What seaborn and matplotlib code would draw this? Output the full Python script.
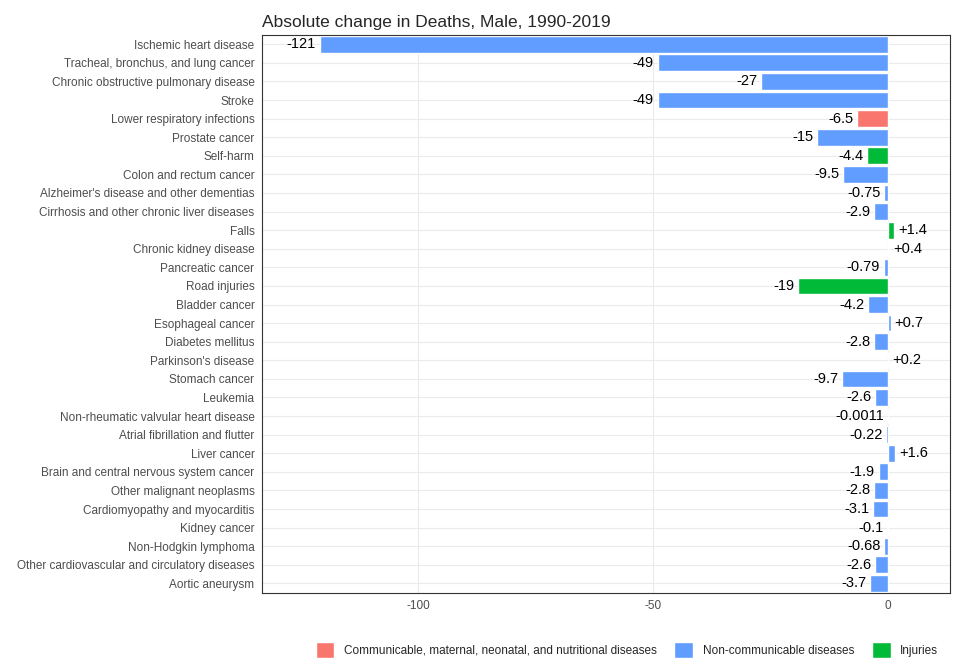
import matplotlib
matplotlib.use("Agg")
import matplotlib.pyplot as plt
import pandas as pd
import seaborn as sns

causes = [
    "Ischemic heart disease", "Tracheal, bronchus, and lung cancer",
    "Chronic obstructive pulmonary disease", "Stroke", "Lower respiratory infections",
    "Prostate cancer", "Self-harm", "Colon and rectum cancer",
    "Alzheimer's disease and other dementias", "Cirrhosis and other chronic liver diseases",
    "Falls", "Chronic kidney disease", "Pancreatic cancer", "Road injuries",
    "Bladder cancer", "Esophageal cancer", "Diabetes mellitus", "Parkinson's disease",
    "Stomach cancer", "Leukemia", "Non-rheumatic valvular heart disease",
    "Atrial fibrillation and flutter", "Liver cancer",
    "Brain and central nervous system cancer", "Other malignant neoplasms",
    "Cardiomyopathy and myocarditis", "Kidney cancer", "Non-Hodgkin lymphoma",
    "Other cardiovascular and circulatory diseases", "Aortic aneurysm",
]
values = [-121, -49, -27, -49, -6.5, -15, -4.4, -9.5, -0.75, -2.9, 1.4, 0.4, -0.79, -19,
          -4.2, 0.7, -2.8, 0.2, -9.7, -2.6, -0.0011, -0.22, 1.6, -1.9, -2.8, -3.1, -0.1,
          -0.68, -2.6, -3.7]
labels = ["-121", "-49", "-27", "-49", "-6.5", "-15", "-4.4", "-9.5", "-0.75", "-2.9",
          "+1.4", "+0.4", "-0.79", "-19", "-4.2", "+0.7", "-2.8", "+0.2", "-9.7", "-2.6",
          "-0.0011", "-0.22", "+1.6", "-1.9", "-2.8", "-3.1", "-0.1", "-0.68", "-2.6", "-3.7"]
CMN = "Communicable, maternal, neonatal, and nutritional diseases"
NCD = "Non-communicable diseases"
INJ = "Injuries"
groups = [NCD, NCD, NCD, NCD, CMN, NCD, INJ, NCD, NCD, NCD, INJ, NCD, NCD, INJ, NCD,
          NCD, NCD, NCD, NCD, NCD, NCD, NCD, NCD, NCD, NCD, NCD, NCD, NCD, NCD, NCD]

df = pd.DataFrame({"cause": causes, "value": values, "group": groups})

sns.set_theme(style="whitegrid")
plt.rcParams["font.family"] = ["Liberation Sans", "DejaVu Sans"]

fig = plt.figure(figsize=(9.6, 6.72), dpi=100)
ax = fig.add_axes([0.273, 0.118, 0.717, 0.830])
palette = {CMN: "#F8766D", NCD: "#619CFF", INJ: "#00BA38"}
sns.barplot(data=df, x="value", y="cause", hue="group", hue_order=[CMN, NCD, INJ],
            palette=palette, dodge=False, width=0.9, saturation=1, ax=ax)

for i, (v, lab) in enumerate(zip(values, labels)):
    if v < 0:
        ax.text(v - 0.8, i, lab, ha="right", va="center", fontsize=10.5, color="black")
    else:
        ax.text(v + 0.8, i, lab, ha="left", va="center", fontsize=10.5, color="black")

ax.set_xlim(-133.3, 13.4)
ax.set_ylim(len(causes) - 0.5, -0.5)
ax.set_xticks([-100, -50, 0])
ax.set_xticklabels(["-100", "-50", "0"])
ax.set_xlabel("")
ax.set_ylabel("")
ax.tick_params(axis="both", labelsize=8.5, labelcolor="#4d4d4d", length=2, color="#333333")
ax.grid(True, color="#ebebeb", linewidth=0.8)
for s in ax.spines.values():
    s.set_color("#333333")
    s.set_linewidth(0.8)
ax.set_title("Absolute change in Deaths, Male, 1990-2019", loc="left", fontsize=12.5, x=0.0, pad=6)

handles, lbls = ax.get_legend_handles_labels()
ax.legend(handles, lbls, loc="upper center", bbox_to_anchor=(0.53, -0.07), ncol=3,
          frameon=False, fontsize=8.5, handlelength=1.6, handleheight=1.6, columnspacing=1.5)

fig.savefig("out.png", dpi=100)
